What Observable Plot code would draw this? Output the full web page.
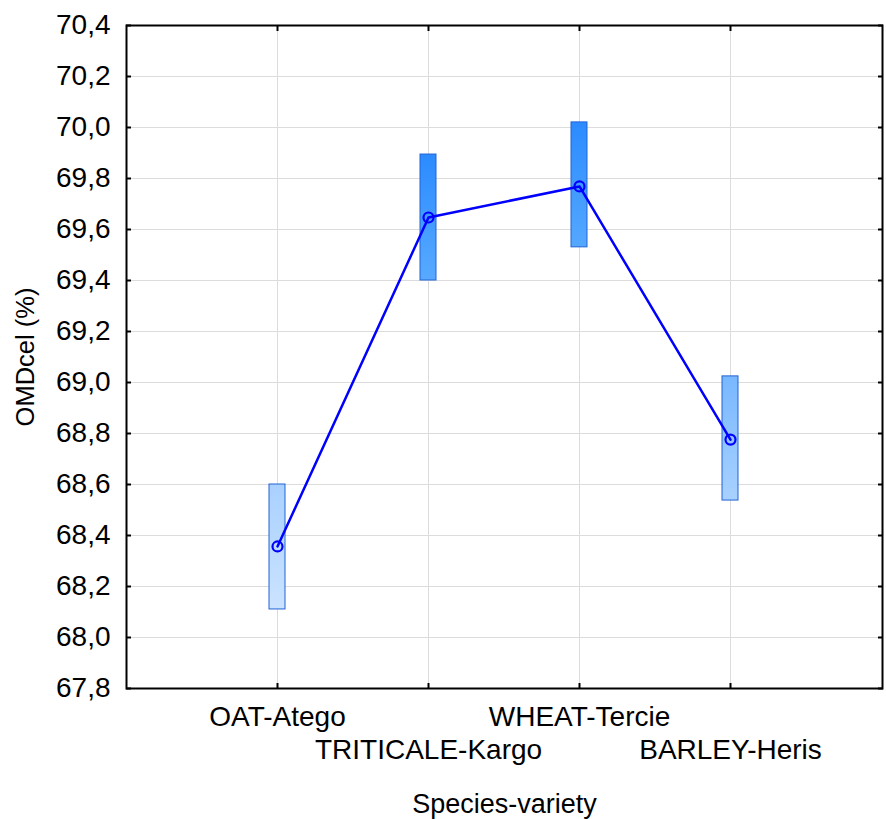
<!DOCTYPE html>
<html>
<head>
<meta charset="utf-8">
<script src="https://cdn.jsdelivr.net/npm/d3@7"></script>
<script src="https://cdn.jsdelivr.net/npm/@observablehq/plot@0.6"></script>
<style>
  html, body { margin: 0; padding: 0; background: #fff; }
  svg { display: block; }
</style>
</head>
<body>
<div id="chart"></div>
<script>
const categories = ["OAT-Atego", "TRITICALE-Kargo", "WHEAT-Tercie", "BARLEY-Heris"];
const means = [68.357, 69.647, 69.769, 68.776];
const lower = [68.11, 69.40, 69.53, 68.537];
const upper = [68.60, 69.894, 70.02, 69.024];
const yTicks = [67.8, 68.0, 68.2, 68.4, 68.6, 68.8, 69.0, 69.2, 69.4, 69.6, 69.8, 70.0, 70.2, 70.4];

// styles (gradient top / bottom per bar)
const gradTop = ["#a9d1ff", "#2b8bff", "#2b8bff", "#78b7ff"];
const gradBottom = ["#cbe3ff", "#58aaff", "#55a8ff", "#a8d1ff"];

const data = categories.map((c, i) => ({cat: c, mean: means[i], lo: lower[i], hi: upper[i], idx: i}));
const row1 = categories.filter((_, i) => i % 2 === 0);
const row2 = categories.filter((_, i) => i % 2 === 1);
const fmt = d => d.toFixed(1).replace(".", ",");
const blank = () => "";
const font = "Liberation Sans, Arial, sans-serif";

const plot = Plot.plot({
  width: 886,
  height: 819,
  marginLeft: 126,
  marginRight: 4,
  marginTop: 25,
  marginBottom: 131,
  style: {fontFamily: font, fontSize: "28px", color: "#000", background: "#fff"},
  x: {type: "band", domain: categories, paddingInner: 0.894, paddingOuter: 0.947, align: 0.5},
  y: {domain: [67.8, 70.4]},
  color: {type: "identity"},
  marks: [
    Plot.gridY(yTicks, {stroke: "#dcdcdc", strokeOpacity: 1, strokeWidth: 1}),
    Plot.gridX(categories, {stroke: "#dcdcdc", strokeOpacity: 1, strokeWidth: 1}),
    Plot.rectY(data, {x: "cat", y1: "lo", y2: "hi", fill: d => `url(#grad${d.idx})`, stroke: "#2263d6", strokeWidth: 1}),
    Plot.line(data, {x: "cat", y: "mean", stroke: "#0000ff", strokeWidth: 2.5}),
    Plot.dot(data, {x: "cat", y: "mean", r: 5, stroke: "#0000ff", strokeWidth: 2.2, fill: "none"}),
    Plot.axisY(yTicks, {anchor: "left", tickSize: -5, strokeWidth: 2, tickPadding: 21, tickFormat: fmt, fontSize: 28, label: null}),
    Plot.axisY({anchor: "left", ticks: [], tickSize: 0, label: "OMDcel (%)", labelAnchor: "center", labelOffset: 111, labelArrow: "none", fontSize: 25.5}),
    Plot.axisY(yTicks, {anchor: "right", tickSize: -5, strokeWidth: 2, tickFormat: blank, label: null}),
    Plot.axisX(row1, {anchor: "bottom", tickSize: 0, tickPadding: 18, label: null, fontSize: 28}),
    Plot.axisX(row2, {anchor: "bottom", tickSize: 0, tickPadding: 51, label: null, fontSize: 28}),
    Plot.axisX(categories, {anchor: "bottom", tickSize: -5, strokeWidth: 2, tickFormat: blank, label: null}),
    Plot.axisX({anchor: "bottom", ticks: [], tickSize: 0, label: "Species-variety", labelAnchor: "center", labelOffset: 124, labelArrow: "none", fontSize: 27}),
    Plot.axisX(categories, {anchor: "top", tickSize: -5, strokeWidth: 2, tickFormat: blank, label: null}),
    Plot.frame({stroke: "#000", strokeWidth: 2})
  ]
});

// gradient definitions
const ns = "http://www.w3.org/2000/svg";
const defs = document.createElementNS(ns, "defs");
categories.forEach((_, i) => {
  const g = document.createElementNS(ns, "linearGradient");
  g.setAttribute("id", `grad${i}`);
  g.setAttribute("x1", "0"); g.setAttribute("y1", "0");
  g.setAttribute("x2", "0"); g.setAttribute("y2", "1");
  const s1 = document.createElementNS(ns, "stop");
  s1.setAttribute("offset", "0"); s1.setAttribute("stop-color", gradTop[i]);
  const s2 = document.createElementNS(ns, "stop");
  s2.setAttribute("offset", "1"); s2.setAttribute("stop-color", gradBottom[i]);
  g.appendChild(s1); g.appendChild(s2);
  defs.appendChild(g);
});
plot.insertBefore(defs, plot.firstChild);

document.getElementById("chart").appendChild(plot);
</script>
</body>
</html>
